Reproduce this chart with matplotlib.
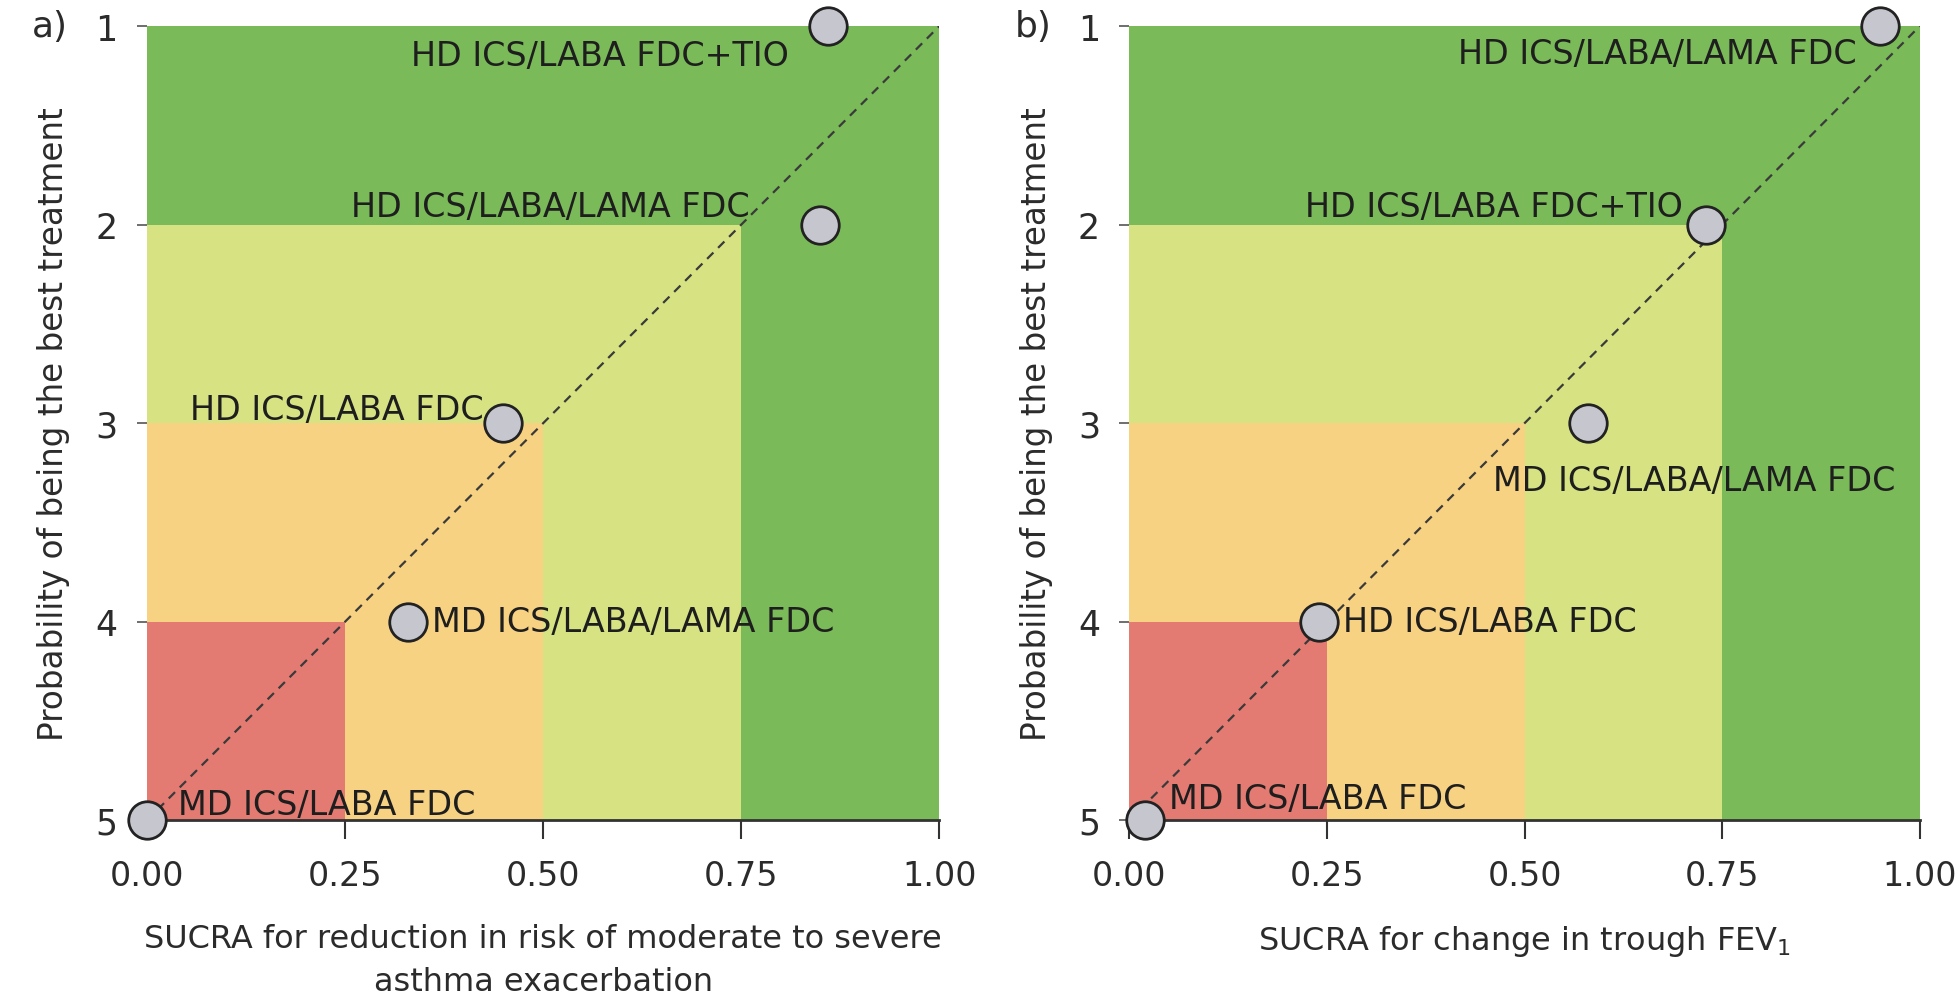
import matplotlib
matplotlib.use("Agg")
import matplotlib.pyplot as plt

# zone definitions: (x_max, rank_min, colour), drawn largest first
ZONE_XMAX = [1.0, 0.75, 0.50, 0.25]
ZONE_RANK_MIN = [1, 2, 3, 4]
ZONE_COLORS = ["#7aba59", "#d7e283", "#f8d283", "#e47b73"]

# panel a: exacerbation
A_LABELS = ["HD ICS/LABA FDC+TIO", "HD ICS/LABA/LAMA FDC", "HD ICS/LABA FDC",
            "MD ICS/LABA/LAMA FDC", "MD ICS/LABA FDC"]
A_SUCRA = [0.86, 0.85, 0.45, 0.33, 0.00]
A_RANK = [1, 2, 3, 4, 5]
A_TEXT_X = [0.81, 0.76, 0.425, 0.36, 0.04]
A_TEXT_Y = [1.15, 1.91, 2.93, 4.0, 4.92]
A_HA = ["right", "right", "right", "left", "left"]

# panel b: trough FEV1
B_LABELS = ["HD ICS/LABA/LAMA FDC", "HD ICS/LABA FDC+TIO", "MD ICS/LABA/LAMA FDC",
            "HD ICS/LABA FDC", "MD ICS/LABA FDC"]
B_SUCRA = [0.95, 0.73, 0.58, 0.24, 0.02]
B_RANK = [1, 2, 3, 4, 5]
B_TEXT_X = [0.92, 0.70, 0.46, 0.27, 0.05]
B_TEXT_Y = [1.14, 1.91, 3.29, 4.0, 4.89]
B_HA = ["right", "right", "left", "left", "left"]

X_TICKS = [0.0, 0.25, 0.5, 0.75, 1.0]
X_TICK_LABELS = ["0.00", "0.25", "0.50", "0.75", "1.00"]
Y_TICKS = [1, 2, 3, 4, 5]

FONT = ["DejaVu Sans"]
TEXT_COLOR = "#2b2b2b"


def plot_panel(ax, sucra, rank, labels, tx, ty, ha, xlabel, tag):
    for xmax, rmin, color in zip(ZONE_XMAX, ZONE_RANK_MIN, ZONE_COLORS):
        ax.fill_between([0, xmax], rmin, 5, color=color, linewidth=0, zorder=0)
    ax.plot([0, 1], [5, 1], linestyle=(0, (4, 3)), color="#3a3a3a",
            linewidth=1.6, zorder=1)
    ax.plot(sucra, rank, "o", markersize=27, markerfacecolor="#c6c6ce",
            markeredgecolor="#222222", markeredgewidth=2.0, clip_on=False, zorder=3)
    for label, x, y, h in zip(labels, tx, ty, ha):
        ax.text(x, y, label, ha=h, va="center", fontsize=24, family=FONT,
                color="#1e1e1e", zorder=2)

    ax.set_xlim(0, 1)
    ax.set_ylim(5, 1)
    ax.set_xticks(X_TICKS)
    ax.set_xticklabels(X_TICK_LABELS, family=FONT, fontsize=24, color=TEXT_COLOR)
    ax.set_yticks(Y_TICKS)
    ax.set_yticklabels([str(t) for t in Y_TICKS], family=FONT, fontsize=25,
                       color=TEXT_COLOR)
    ax.tick_params(axis="x", length=14, width=1.5, pad=14, color="#333333")
    ax.tick_params(axis="y", length=7, width=1.2, pad=14, color="#555555")
    for side in ("top", "right", "left"):
        ax.spines[side].set_visible(False)
    ax.spines["bottom"].set_linewidth(2.0)
    ax.spines["bottom"].set_color("#333333")
    ax.set_xlabel(xlabel, family=FONT, fontsize=23, color=TEXT_COLOR,
                  labelpad=22, linespacing=1.5)
    ax.set_ylabel("Probability of being the best treatment", family=FONT,
                  fontsize=23.5, color=TEXT_COLOR, labelpad=18)
    ax.text(-0.145, 1.0, tag, transform=ax.transAxes, ha="left", va="center",
            family=FONT, fontsize=26, color=TEXT_COLOR)


def main():
    fig = plt.figure(figsize=(19.57, 10.03), dpi=100)
    ax_a = fig.add_axes([0.075, 0.181, 0.405, 0.792])
    ax_b = fig.add_axes([0.577, 0.181, 0.404, 0.792])

    plot_panel(ax_a, A_SUCRA, A_RANK, A_LABELS, A_TEXT_X, A_TEXT_Y, A_HA,
               "SUCRA for reduction in risk of moderate to severe\nasthma exacerbation",
               "a)")
    plot_panel(ax_b, B_SUCRA, B_RANK, B_LABELS, B_TEXT_X, B_TEXT_Y, B_HA,
               "SUCRA for change in trough FEV$_1$", "b)")

    fig.savefig("out.png", dpi=100, facecolor="white")


if __name__ == "__main__":
    main()
